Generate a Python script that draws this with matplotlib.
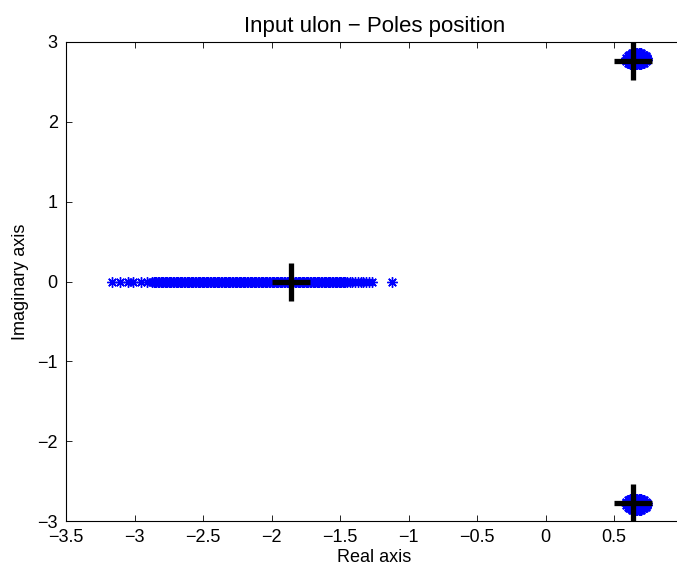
import matplotlib
matplotlib.use("Agg")
import matplotlib.pyplot as plt

# poles of the identified models lying on the real axis
real_poles = [
    -3.165, -3.105, -3.05, -3.01, -2.95, -2.91,
    -2.87, -2.86, -2.85, -2.84, -2.83, -2.82, -2.81, -2.80, -2.79, -2.78,
    -2.77, -2.76, -2.75, -2.74, -2.73, -2.72, -2.71, -2.70, -2.69, -2.68,
    -2.67, -2.66, -2.65, -2.64, -2.63, -2.62, -2.61, -2.60, -2.59, -2.58,
    -2.57, -2.56, -2.55, -2.54, -2.53, -2.52, -2.51, -2.50, -2.49, -2.48,
    -2.47, -2.46, -2.45, -2.44, -2.43, -2.42, -2.41, -2.40, -2.39, -2.38,
    -2.37, -2.36, -2.35, -2.34, -2.33, -2.32, -2.31, -2.30, -2.29, -2.28,
    -2.27, -2.26, -2.25, -2.24, -2.23, -2.22, -2.21, -2.20, -2.19, -2.18,
    -2.17, -2.16, -2.15, -2.14, -2.13, -2.12, -2.11, -2.10, -2.09, -2.08,
    -2.07, -2.06, -2.05, -2.04, -2.03, -2.02, -2.01, -2.00, -1.99, -1.98,
    -1.97, -1.96, -1.95, -1.94, -1.93, -1.92, -1.91, -1.90, -1.89, -1.88,
    -1.87, -1.86, -1.85, -1.84, -1.83, -1.82, -1.81, -1.80, -1.79, -1.78,
    -1.77, -1.76, -1.75, -1.74, -1.73, -1.72, -1.71, -1.70, -1.69, -1.68,
    -1.67, -1.66, -1.65, -1.64, -1.63, -1.62, -1.61, -1.60, -1.59, -1.58,
    -1.57, -1.56, -1.55, -1.54, -1.53, -1.52, -1.51, -1.50, -1.49, -1.48,
    -1.47, -1.46, -1.45,
    -1.43, -1.41, -1.39, -1.37, -1.35, -1.33, -1.31, -1.29, -1.265,
    -1.12,
]

# complex pair cluster (upper half; the lower half is its conjugate)
pair_re = [
    0.62, 0.63, 0.64, 0.65, 0.66, 0.67, 0.68, 0.69, 0.70,
    0.60, 0.61, 0.62, 0.63, 0.64, 0.65, 0.66, 0.67, 0.68, 0.69, 0.70, 0.71, 0.72,
    0.59, 0.60, 0.61, 0.62, 0.63, 0.64, 0.65, 0.66, 0.67, 0.68, 0.69, 0.70, 0.71, 0.72, 0.73,
    0.59, 0.60, 0.61, 0.62, 0.63, 0.64, 0.65, 0.66, 0.67, 0.68, 0.69, 0.70, 0.71, 0.72, 0.73, 0.74,
    0.59, 0.60, 0.61, 0.62, 0.63, 0.64, 0.65, 0.66, 0.67, 0.68, 0.69, 0.70, 0.71, 0.72, 0.73, 0.74,
    0.60, 0.61, 0.62, 0.63, 0.64, 0.65, 0.66, 0.67, 0.68, 0.69, 0.70, 0.71, 0.72, 0.73,
    0.61, 0.62, 0.63, 0.64, 0.65, 0.66, 0.67, 0.68, 0.69, 0.70, 0.71, 0.72,
    0.63, 0.64, 0.65, 0.66, 0.67, 0.68, 0.69, 0.70,
]
pair_im = (
    [2.72] * 9 + [2.74] * 13 + [2.76] * 15 + [2.78] * 16
    + [2.80] * 16 + [2.82] * 14 + [2.84] * 12 + [2.86] * 8
)

# nominal poles
nominal_re = [-1.86, 0.64, 0.64]
nominal_im = [0.0, 2.76, -2.77]

x_ticks = [-3.5, -3, -2.5, -2, -1.5, -1, -0.5, 0, 0.5]
y_ticks = [-3, -2, -1, 0, 1, 2, 3]

plt.rcParams["font.family"] = ["Liberation Sans", "DejaVu Sans"]
plt.rcParams["font.size"] = 13

fig = plt.figure(figsize=(6.77, 5.73), dpi=100)
ax = fig.add_axes([66 / 677, 52 / 573, 616.5 / 677, 479 / 573])

asterisk = (8, 2, 0)
ax.plot(real_poles, [0.0] * len(real_poles), linestyle="none",
        marker=asterisk, ms=7.5, mew=1.0, color="blue")
ax.plot(pair_re, pair_im, linestyle="none",
        marker=asterisk, ms=7.5, mew=1.0, color="blue")
ax.plot(pair_re, [-v for v in pair_im], linestyle="none",
        marker=asterisk, ms=7.5, mew=1.0, color="blue")
ax.plot(nominal_re, nominal_im, linestyle="none",
        marker="+", ms=27, mew=3.8, color="black")

ax.set_xlim(-3.5, 1.0)
ax.set_ylim(-3, 3)
ax.set_xticks(x_ticks)
ax.set_xticklabels([f"{v:g}".replace("-", "\u2212") for v in x_ticks])
ax.set_yticks(y_ticks)
ax.set_yticklabels([f"{v:g}".replace("-", "\u2212") for v in y_ticks])
ax.tick_params(direction="in", top=True, right=True, length=4, width=0.6,
               labelsize=13)
ax.tick_params(axis="x", pad=6)
ax.tick_params(axis="y", pad=6)
for s in ax.spines.values():
    s.set_linewidth(0.8)

ax.set_title("Input ulon \u2212 Poles position", fontsize=16, pad=7.5)
ax.set_xlabel("Real axis", fontsize=13, labelpad=2)
ax.set_ylabel("Imaginary axis", fontsize=13, labelpad=6)

fig.savefig("out.png", dpi=100)
